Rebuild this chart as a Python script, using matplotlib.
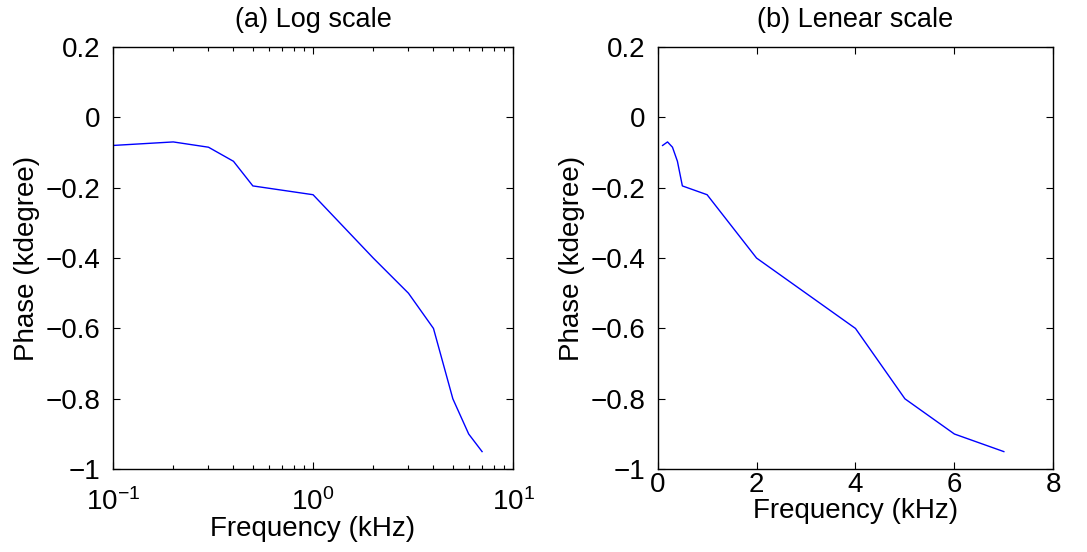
import matplotlib
matplotlib.use("Agg")
import matplotlib.pyplot as plt

plt.rcParams['font.family'] = ['Liberation Sans', 'DejaVu Sans']
plt.rcParams['mathtext.fontset'] = 'custom'
plt.rcParams['mathtext.rm'] = 'Liberation Sans'
plt.rcParams['mathtext.it'] = 'Liberation Sans'
plt.rcParams['mathtext.default'] = 'regular'

freq_khz = [0.1, 0.2, 0.3, 0.4, 0.5, 1, 2, 3, 4, 5, 6, 7]
phase_kdeg = [-0.08, -0.07, -0.085, -0.125, -0.195, -0.22, -0.4, -0.5, -0.6, -0.8, -0.9, -0.95]

fig = plt.figure(figsize=(10.87, 5.52), dpi=100)
ax1 = fig.add_axes([0.104, 0.150, 0.368, 0.765])
ax2 = fig.add_axes([0.605, 0.150, 0.364, 0.765])

for ax in (ax1, ax2):
    ax.plot(freq_khz, phase_kdeg, color='blue', linewidth=1)
    ax.set_ylim(-1, 0.2)
    ax.set_yticks([-1, -0.8, -0.6, -0.4, -0.2, 0, 0.2])
    ax.set_yticklabels(['\u22121', '\u22120.8', '\u22120.6', '\u22120.4', '\u22120.2', '0', '0.2'])
    ax.tick_params(direction='in', which='both', top=True, right=True, labelsize=20, length=5, width=0.8)
    ax.tick_params(axis='y', pad=9)
    ax.tick_params(which='minor', length=3)
    ax.set_xlabel('Frequency (kHz)', fontsize=20, labelpad=0)
    ax.set_ylabel('Phase (kdegree)', fontsize=20, labelpad=4)
    for s in ax.spines.values():
        s.set_linewidth(1)

ax1.set_xscale('log')
ax1.set_xlim(0.1, 10)
ax1.tick_params(axis='x', pad=14)
ax1.set_title('(a) Log scale', fontsize=19.5, pad=14)

ax2.set_xlim(0, 8)
ax2.set_xticks([0, 2, 4, 6, 8])
ax2.tick_params(axis='x', pad=2)
ax2.set_title('(b) Lenear scale', fontsize=19.5, pad=14)

fig.savefig('out.png', dpi=100)
